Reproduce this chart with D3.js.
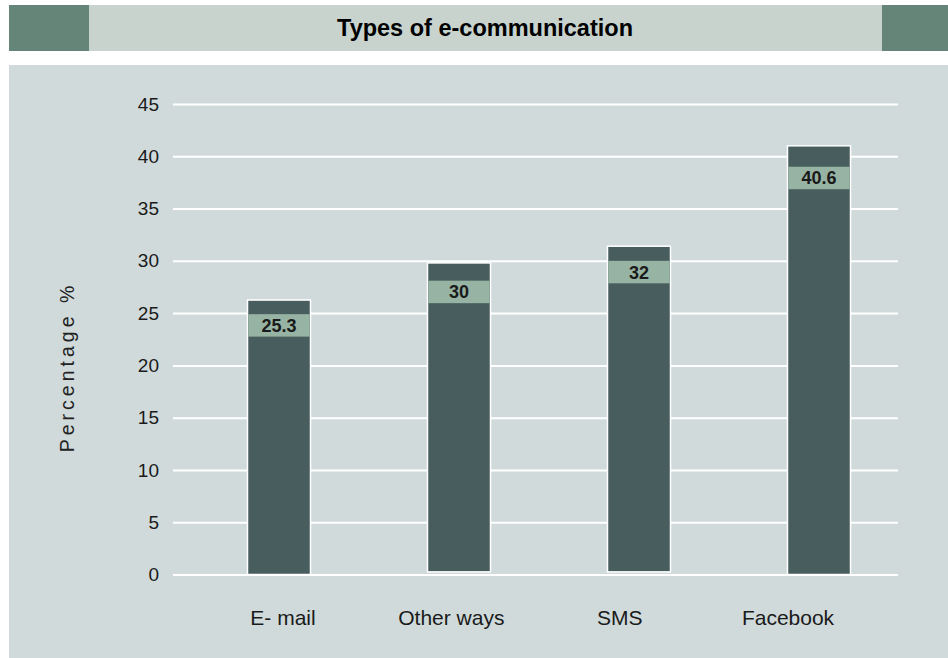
<!DOCTYPE html>
<html>
<head>
<meta charset="utf-8">
<script src="https://cdn.jsdelivr.net/npm/d3@7"></script>
<style>
  body { margin:0; background:#ffffff; }
  svg { display:block; }
</style>
</head>
<body>
<svg id="canvas" width="948" height="658"></svg>
<script>
// values
var categories = ["E- mail", "Other ways", "SMS", "Facebook"];
var valueLabels = ["25.3", "30", "32", "40.6"];
var barTops = [26.25, 29.8, 31.4, 41.0];
var barBases = [0, 0.25, 0.25, 0];
var bandTops = [24.9, 28.1, 30.0, 39.0];
var bandSize = 2.15;
var yTicks = [0, 5, 10, 15, 20, 25, 30, 35, 40, 45];

var svg = d3.select("#canvas");

// header strip
svg.append("rect").attr("x", 9).attr("y", 5).attr("width", 939).attr("height", 46).attr("fill", "#c8d3ce");
svg.append("rect").attr("x", 9).attr("y", 5).attr("width", 80).attr("height", 46).attr("fill", "#658578");
svg.append("rect").attr("x", 882).attr("y", 5).attr("width", 66).attr("height", 46).attr("fill", "#658578");
svg.append("text")
  .attr("x", 485).attr("y", 36)
  .attr("text-anchor", "middle")
  .attr("font-family", "Liberation Sans, Arial, sans-serif")
  .attr("font-weight", "bold")
  .attr("font-size", 23.5)
  .attr("fill", "#000")
  .text("Types of e-communication");

// chart panel
svg.append("rect").attr("x", 9).attr("y", 65).attr("width", 939).attr("height", 593).attr("fill", "#d0dadb");

var y = d3.scaleLinear().domain([0, 45]).range([574.5, 104]);
var x = d3.scalePoint().domain(categories).range([279, 819]);
var xLab = d3.scalePoint().domain(categories).range([283, 788]);
var barW = 63;

// gridlines + tick labels
var yAxis = svg.append("g")
  .attr("transform", "translate(173,0)")
  .call(d3.axisLeft(y).tickValues(yTicks).tickSize(-725).tickPadding(14).tickFormat(d3.format("d")));
yAxis.select(".domain").remove();
yAxis.selectAll(".tick line").attr("stroke", "#ffffff").attr("stroke-width", 2);
yAxis.selectAll(".tick text")
  .attr("font-family", "Liberation Sans, Arial, sans-serif")
  .attr("font-size", 19)
  .attr("fill", "#1a1a1a");

// axis title
svg.append("text")
  .attr("transform", "translate(74,367) rotate(-90)")
  .attr("text-anchor", "middle")
  .attr("font-family", "Liberation Sans, Arial, sans-serif")
  .attr("font-size", 19.5)
  .attr("letter-spacing", "4px")
  .attr("fill", "#222")
  .text("Percentage %");

// bars
var bars = svg.append("g").selectAll("g")
  .data(categories).enter()
  .append("g");

bars.append("rect")
  .attr("x", function(d) { return x(d) - barW / 2; })
  .attr("y", function(d, i) { return y(barTops[i]); })
  .attr("width", barW)
  .attr("height", function(d, i) { return y(barBases[i]) - y(barTops[i]); })
  .attr("fill", "#485d5e")
  .attr("stroke", "#ffffff")
  .attr("stroke-width", 1.5);

bars.append("rect")
  .attr("x", function(d) { return x(d) - barW / 2 + 0.75; })
  .attr("y", function(d, i) { return y(bandTops[i]); })
  .attr("width", barW - 1.5)
  .attr("height", function(d, i) { return y(bandTops[i] - bandSize) - y(bandTops[i]); })
  .attr("fill", "#97b3a3");

bars.append("text")
  .attr("x", function(d) { return x(d); })
  .attr("y", function(d, i) { return (y(bandTops[i]) + y(bandTops[i] - bandSize)) / 2 + 6.5; })
  .attr("text-anchor", "middle")
  .attr("font-family", "Liberation Sans, Arial, sans-serif")
  .attr("font-weight", "bold")
  .attr("font-size", 18)
  .attr("fill", "#1a1a1a")
  .text(function(d, i) { return valueLabels[i]; });

// category labels
svg.append("g").selectAll("text")
  .data(categories).enter()
  .append("text")
  .attr("x", function(d) { return xLab(d); })
  .attr("y", 625)
  .attr("text-anchor", "middle")
  .attr("font-family", "Liberation Sans, Arial, sans-serif")
  .attr("font-size", 21)
  .attr("fill", "#1a1a1a")
  .text(function(d) { return d; });
</script>
</body>
</html>
